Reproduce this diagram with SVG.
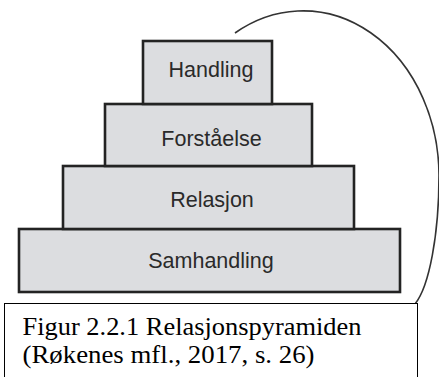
<svg xmlns="http://www.w3.org/2000/svg" width="439" height="377" viewBox="0 0 439 377">
<style>
.lvl rect{fill:#dcdde0;stroke:#232323;stroke-width:2.6}
.lvl text{font-family:"Liberation Sans",Arial,sans-serif;font-size:21.5px;fill:#2a2a2a;text-anchor:middle}
.cap text{font-family:"Liberation Serif","Times New Roman",serif;font-size:26px;fill:#000}
</style>
<rect width="439" height="377" fill="#fff"/>
<g id="connectors">
<path d="M235,33 A136,165 0 0 1 439,175 A34,135 0 0 1 415,304" fill="none" stroke="#333" stroke-width="1.6"/>
</g>
<g id="samhandling" class="lvl"><rect x="19" y="229" width="381" height="63"/><text x="211" y="268">Samhandling</text></g>
<g id="relasjon" class="lvl"><rect x="63" y="166" width="291" height="63"/><text x="212" y="207">Relasjon</text></g>
<g id="forstaaelse" class="lvl"><rect x="105" y="104" width="207" height="62"/><text x="211.5" y="146">Forståelse</text></g>
<g id="handling" class="lvl"><rect x="143" y="41" width="129" height="63"/><text x="211" y="77">Handling</text></g>
<g id="caption" class="cap">
<rect x="4.5" y="303.5" width="413" height="80" fill="#fff" stroke="#000" stroke-width="1"/>
<text x="22.5" y="335" textLength="339" lengthAdjust="spacingAndGlyphs">Figur 2.2.1 Relasjonspyramiden</text>
<text x="22.5" y="363" textLength="292" lengthAdjust="spacingAndGlyphs">(Røkenes mfl., 2017, s. 26)</text>
</g>
</svg>
